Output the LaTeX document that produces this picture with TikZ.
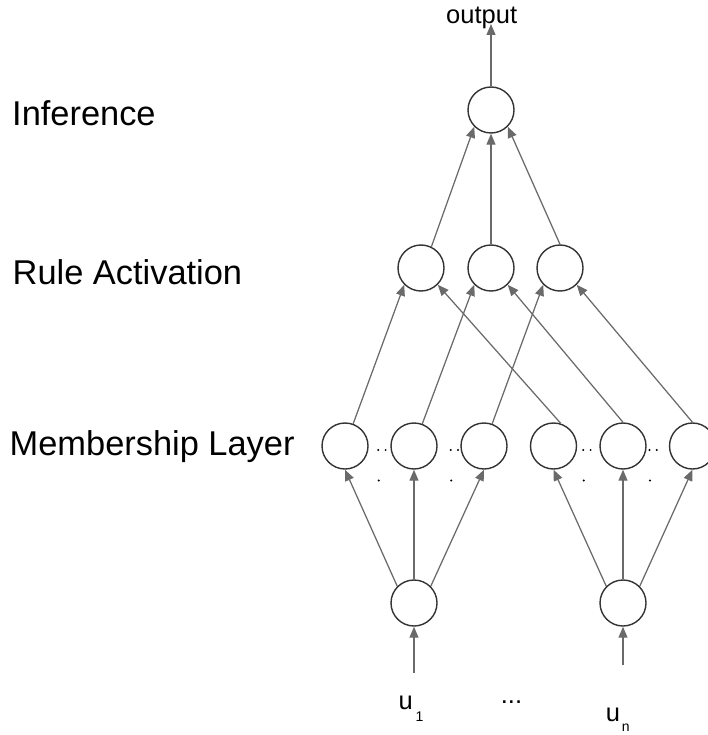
\documentclass[tikz,border=0pt]{standalone}
\usepackage{fontspec}
\setmainfont{Liberation Sans}
\usetikzlibrary{arrows.meta}

\definecolor{ringcol}{HTML}{333333}
\definecolor{linkcol}{HTML}{6A6A6A}

\begin{document}
\begin{tikzpicture}[x=1pt,y=-1pt,
  neuron/.style={circle,draw=ringcol,line width=1.4pt,minimum size=46pt,inner sep=0pt},
  link/.style={draw=linkcol,line width=1.25pt,-{Triangle[length=11pt,width=9pt]}},
  layertext/.style={anchor=base west,inner sep=0pt,font=\fontsize{34.4}{40}\selectfont},
  smalltext/.style={anchor=base west,inner sep=0pt,font=\fontsize{25.5}{30}\selectfont},
  subtext/.style={anchor=base west,inner sep=0pt,font=\fontsize{14}{16}\selectfont},
  dotmark/.style={circle,fill=black,inner sep=0pt,minimum size=2.2pt}
]
\path[use as bounding box] (0,0) rectangle (708,735);

% layer captions
\node[layertext] (capInf) at (12,126) {Inference};
\node[layertext] (capRule) at (12.5,284.5) {Rule Activation};
\node[layertext] (capMem) at (9.5,455) {Membership Layer};

% inference node and output
\node[neuron] (I) at (491,110) {};
\node[smalltext] (out) at (446,24) {output};
\coordinate (outTip) at (491,24);

% rule activation nodes
\node[neuron] (R1) at (421,268) {};
\node[neuron] (R2) at (491,268) {};
\node[neuron] (R3) at (560,268) {};

% membership nodes
\node[neuron] (M1) at (345,446) {};
\node[neuron] (M2) at (414,446) {};
\node[neuron] (M3) at (484,446) {};
\node[neuron] (M4) at (553.5,446) {};
\node[neuron] (M5) at (623,446) {};
\node[neuron] (M6) at (692.5,446) {};

% input nodes
\node[neuron] (U1) at (414,603) {};
\node[neuron] (U2) at (623,603) {};
\coordinate (in1) at (414,673);
\coordinate (in2) at (623,665);

% input labels
\node[smalltext] (u1) at (398.4,709) {u};
\node[subtext] (u1s) at (415.3,721) {1};
\node[smalltext] (dots) at (500.7,703.5) {...};
\node[smalltext] (un) at (605.7,721.7) {u};
\node[subtext] (uns) at (621.7,731.7) {n};

% ellipsis marks between membership nodes
\foreach \x in {378.3,450.7,583.3,649.5}{
  \node[dotmark] at (\x,450) {};
  \node[dotmark] at (\x+7.3,450) {};
  \node[dotmark] at (\x+0.5,480.5) {};
}

% output
\draw[link] (I.north) -- (outTip);

% rule activation -> inference
\draw[link] (R1.64) -- (I.south west);
\draw[link] (R2.north) -- (I.south);
\draw[link] (R3.north) -- (I.south east);

% membership -> rule activation
\draw[link] (M1) -- (R1.south west);
\draw[link] (M2) -- (R2.south west);
\draw[link] (M3) -- (R3.south west);
\draw[link] (M4.72) -- (R1.south east);
\draw[link] (M5.north) -- (R2.south east);
\draw[link] (M6.north) -- (R3.south east);

% inputs -> membership
\draw[link] (U1.north west) -- (M1.south);
\draw[link] (U1.north) -- (M2.south);
\draw[link] (U1.north east) -- (M3.south);
\draw[link] (U2.north west) -- (M4.south);
\draw[link] (U2.north) -- (M5.south);
\draw[link] (U2.north east) -- (M6.south);

% external inputs
\draw[link] (in1) -- (U1.south);
\draw[link] (in2) -- (U2.south);
\end{tikzpicture}
\end{document}
